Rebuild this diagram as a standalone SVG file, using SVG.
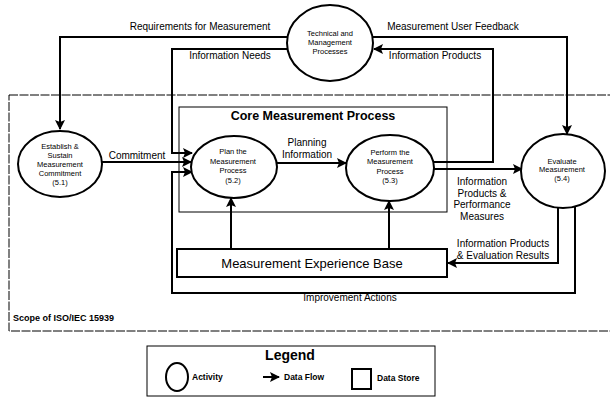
<svg xmlns="http://www.w3.org/2000/svg" width="610" height="397" viewBox="0 0 610 397">
<style>
  text { font-family: "Liberation Sans", Arial, sans-serif; fill: #000; }
  .node { fill: #fff; stroke: #000; stroke-width: 2; }
  .flow { fill: none; stroke: #000; stroke-width: 2; }
  .thin { fill: none; stroke: #000; stroke-width: 1; }
  .lbl { font-size: 10px; text-anchor: middle; }
  .sm { font-size: 7.5px; text-anchor: middle; }
  .lg { font-size: 8.5px; font-weight: bold; }
</style>
<defs>
  <marker id="ah" viewBox="0 0 10 10" refX="9" refY="5" markerWidth="5" markerHeight="5" orient="auto" markerUnits="strokeWidth">
    <path d="M0,0 L10,5 L0,10 L2,5 z" fill="#000"/>
  </marker>
</defs>
<rect width="610" height="397" fill="#fff"/>

<g id="scope">
  <rect x="9" y="95" width="612" height="236" fill="none" stroke="#000" stroke-width="1" stroke-dasharray="9,1.5"/>
  <text x="13" y="321" font-size="9" font-weight="bold">Scope of ISO/IEC 15939</text>
</g>

<g id="core">
  <rect x="179" y="107" width="268" height="105" class="thin"/>
  <text x="313" y="120" font-size="12.5" font-weight="bold" text-anchor="middle">Core Measurement Process</text>
</g>

<g id="connectors">
  <path class="flow" d="M287,37 H60 V129" marker-end="url(#ah)"/>
  <path class="flow" d="M289,49 H172 V153 H192" marker-end="url(#ah)"/>
  <path class="flow" d="M373,37 H567 V134" marker-end="url(#ah)"/>
  <path class="flow" d="M433,162 H493 V49 H374" marker-end="url(#ah)"/>
  <path class="flow" d="M102,162 H191" marker-end="url(#ah)"/>
  <path class="flow" d="M277,163 H346" marker-end="url(#ah)"/>
  <path class="flow" d="M434,169 H522" marker-end="url(#ah)"/>
  <path class="flow" d="M558,208 V263 H448" marker-end="url(#ah)"/>
  <path class="flow" d="M575,205 V293 H172 V172 H192" marker-end="url(#ah)"/>
  <path class="flow" d="M231,249 V198" marker-end="url(#ah)"/>
  <path class="flow" d="M389,249 V201" marker-end="url(#ah)"/>
  <text class="lbl" x="200" y="30">Requirements for Measurement</text>
  <text class="lbl" x="230" y="59">Information Needs</text>
  <text class="lbl" x="453" y="30">Measurement User Feedback</text>
  <text class="lbl" x="435" y="59">Information Products</text>
  <text class="lbl" x="137" y="159">Commitment</text>
  <text class="lbl" x="307" y="146">Planning</text>
  <text class="lbl" x="307" y="158">Information</text>
  <text class="lbl" x="482" y="185">Information</text>
  <text class="lbl" x="482" y="196.5">Products &amp;</text>
  <text class="lbl" x="482" y="208">Performance</text>
  <text class="lbl" x="482" y="219.5">Measures</text>
  <text class="lbl" x="503" y="247">Information Products</text>
  <text class="lbl" x="503" y="259">&amp; Evaluation Results</text>
  <text class="lbl" x="350" y="301" font-size="9">Improvement Actions</text>
</g>

<g id="tech">
  <ellipse cx="330" cy="43" rx="43" ry="38" class="node"/>
  <text class="sm" x="330" y="36">Technical and</text>
  <text class="sm" x="330" y="45">Management</text>
  <text class="sm" x="330" y="54">Processes</text>
</g>

<g id="establish">
  <ellipse cx="60" cy="164" rx="42" ry="33" class="node"/>
  <text class="sm" x="60" y="149">Establish &amp;</text>
  <text class="sm" x="60" y="158">Sustain</text>
  <text class="sm" x="60" y="167">Measurement</text>
  <text class="sm" x="60" y="176">Commitment</text>
  <text class="sm" x="60" y="185">(5.1)</text>
</g>

<g id="plan">
  <ellipse cx="234" cy="167" rx="43" ry="31" class="node"/>
  <text class="sm" x="233" y="154">Plan the</text>
  <text class="sm" x="233" y="164">Measurement</text>
  <text class="sm" x="233" y="173">Process</text>
  <text class="sm" x="233" y="183">(5.2)</text>
</g>

<g id="perform">
  <ellipse cx="390" cy="168" rx="44" ry="33" class="node"/>
  <text class="sm" x="390" y="155">Perform the</text>
  <text class="sm" x="390" y="164">Measurement</text>
  <text class="sm" x="390" y="174">Process</text>
  <text class="sm" x="390" y="183">(5.3)</text>
</g>

<g id="evaluate">
  <ellipse cx="563" cy="171" rx="42" ry="37" class="node"/>
  <text class="sm" x="562" y="164">Evaluate</text>
  <text class="sm" x="562" y="172">Measurement</text>
  <text class="sm" x="562" y="181">(5.4)</text>
</g>

<g id="experience">
  <rect x="177" y="249" width="270" height="28" class="node"/>
  <text x="312" y="268" font-size="13" text-anchor="middle">Measurement Experience Base</text>
</g>

<g id="legend">
  <rect x="147" y="346" width="288" height="50" class="thin" stroke-width="1.5"/>
  <text x="290" y="360" font-size="14" font-weight="bold" text-anchor="middle">Legend</text>
  <ellipse cx="177" cy="377" rx="11" ry="14" class="node" stroke-width="1.5"/>
  <text class="lg" x="192" y="380">Activity</text>
  <path class="flow" d="M263,377 H279" marker-end="url(#ah)"/>
  <text class="lg" x="284" y="380">Data Flow</text>
  <rect x="352" y="369" width="19" height="20" class="node" stroke-width="1.5"/>
  <text class="lg" x="377" y="381">Data Store</text>
</g>
</svg>
